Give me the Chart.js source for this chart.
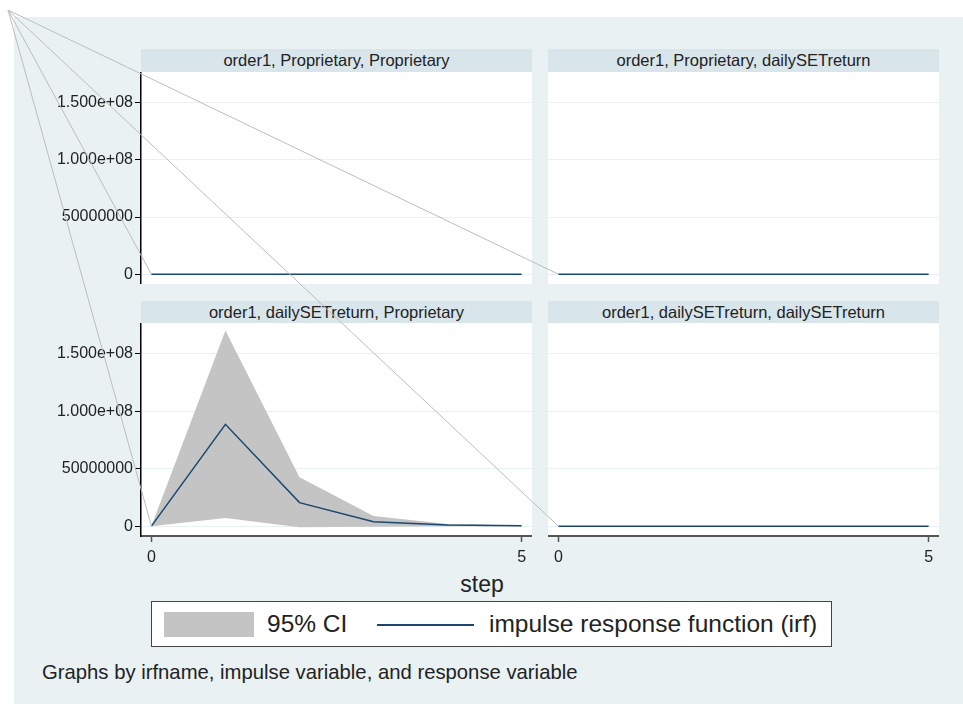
<!DOCTYPE html>
<html>
<head>
<meta charset="utf-8">
<script src="https://cdn.jsdelivr.net/npm/chart.js@4.4.0/dist/chart.umd.min.js"></script>
<style>
  body { margin: 0; width: 963px; height: 704px; overflow: hidden; position: relative; background: #fff;
         font-family: "Liberation Sans", Arial, sans-serif; color: #222; }
  #bg { position: absolute; left: 14px; top: 17px; right: 0; bottom: 0; background: #e9f1f3; }
  .strip { position: absolute; width: 391px; height: 23px; line-height: 23px; background: #d8e5eb;
           text-align: center; font-size: 16.5px; color: #222; }
  canvas { position: absolute; }
  #step { position: absolute; left: 432px; width: 100px; top: 571px; text-align: center; font-size: 23px; }
  #legend { position: absolute; left: 151px; top: 601px; width: 679px; height: 44px; background: #fff;
            border: 1px solid #444; }
  #legend .sw { position: absolute; left: 12px; top: 10px; width: 90px; height: 25px; background: #c4c4c4; }
  #legend .ln { position: absolute; left: 225px; top: 22px; width: 97px; height: 2px; background: #1a476f; }
  #legend .tx { position: absolute; top: 0; line-height: 44px; font-size: 24.5px; color: #222; }
  #note { position: absolute; left: 42px; top: 661px; font-size: 20.3px; color: #222; }
  #overlay { position: absolute; left: 0; top: 0; pointer-events: none; }
</style>
</head>
<body>
<div id="bg"></div>

<div class="strip" style="left:141px;top:49px">order1, Proprietary, Proprietary</div>
<div class="strip" style="left:548px;top:49px">order1, Proprietary, dailySETreturn</div>
<div class="strip" style="left:141px;top:301px;height:22px;line-height:22px">order1, dailySETreturn, Proprietary</div>
<div class="strip" style="left:548px;top:301px;height:22px;line-height:22px">order1, dailySETreturn, dailySETreturn</div>

<canvas id="pPP" width="491" height="212" style="left:41px;top:72px"></canvas>
<canvas id="pPD" width="391" height="212" style="left:548px;top:72px"></canvas>
<canvas id="pDP" width="491" height="248" style="left:41px;top:323px"></canvas>
<canvas id="pDD" width="391" height="248" style="left:548px;top:323px"></canvas>

<div id="step">step</div>
<div id="legend">
  <div class="sw"></div>
  <div class="tx" style="left:115px">95% CI</div>
  <div class="ln"></div>
  <div class="tx" style="left:337px">impulse response function (irf)</div>
</div>
<div id="note">Graphs by irfname, impulse variable, and response variable</div>
<canvas id="overlay" width="963" height="704"></canvas>

<script>
// steps of the impulse response
var steps = [0, 1, 2, 3, 4, 5];

// order1, Proprietary -> Proprietary
var irfPP = [0, 0, 0, 0, 0, 0];
var loPP  = [0, 0, 0, 0, 0, 0];
var hiPP  = [0, 0, 0, 0, 0, 0];

// order1, Proprietary -> dailySETreturn
var irfPD = [0, 0, 0, 0, 0, 0];
var loPD  = [0, 0, 0, 0, 0, 0];
var hiPD  = [0, 0, 0, 0, 0, 0];

// order1, dailySETreturn -> Proprietary
var irfDP = [0, 88700000, 20500000, 3800000, 900000, 300000];
var loDP  = [0, 7000000, -900000, -500000, -100000, 0];
var hiDP  = [0, 170500000, 42500000, 8800000, 1800000, 500000];

// order1, dailySETreturn -> dailySETreturn
var irfDD = [0, 0, 0, 0, 0, 0];
var loDD  = [0, 0, 0, 0, 0, 0];
var hiDD  = [0, 0, 0, 0, 0, 0];

var yTicks = [0, 50000000, 100000000, 150000000];
var yTickLabels = ["0", "50000000", "1.000e+08", "1.500e+08"];
var xTicks = [0, 5];

var ciColor = "#c4c4c4";
var irfColor = "#1a476f";

Chart.defaults.font.family = "'Liberation Sans', Arial, sans-serif";
Chart.defaults.font.size = 16;
Chart.defaults.color = "#222";

var whiteArea = {
  id: "whiteArea",
  beforeDraw: function(chart) {
    var a = chart.chartArea;
    chart.ctx.save();
    chart.ctx.fillStyle = "#fff";
    chart.ctx.fillRect(a.left, a.top, a.right - a.left, a.bottom - a.top);
    chart.ctx.restore();
  }
};

function pts(arr) {
  return steps.map(function(s, i) { return { x: s, y: arr[i] }; });
}

function makePanel(id, irf, lo, hi, showY, showX) {
  var ctx = document.getElementById(id).getContext("2d");
  return new Chart(ctx, {
    type: "line",
    data: {
      datasets: [
        { data: pts(lo), borderWidth: 0, pointRadius: 0, fill: false, order: 2 },
        { data: pts(hi), borderWidth: 0, pointRadius: 0, fill: "-1", backgroundColor: ciColor, order: 1 },
        { data: pts(irf), borderColor: irfColor, borderWidth: 1.5, pointRadius: 0, fill: false, order: 0 }
      ]
    },
    options: {
      responsive: false,
      animation: false,
      layout: { padding: 0 },
      plugins: { legend: { display: false }, tooltip: { enabled: false } },
      scales: {
        x: {
          type: "linear",
          min: -0.14,
          max: 5.14,
          display: showX,
          afterBuildTicks: function(s) { s.ticks = xTicks.map(function(v) { return { value: v }; }); },
          afterFit: function(s) {
            if (showX) { s.height = 35; }
            s.paddingLeft = 0; s.paddingRight = 0;
          },
          grid: { drawOnChartArea: false, drawTicks: true, tickLength: 6, tickColor: "#555", tickWidth: 1.5 },
          border: { display: true, color: "#555", width: 2 },
          ticks: { color: "#222", font: { size: 16 }, padding: 6, maxRotation: 0,
                   callback: function(v) { return String(v); } }
        },
        y: {
          min: -8600000,
          max: 177000000,
          afterBuildTicks: function(s) { s.ticks = yTicks.map(function(v) { return { value: v }; }); },
          afterFit: function(s) { s.width = showY ? 100 : 0; s.paddingTop = 0; s.paddingBottom = 0; },
          grid: { color: "#e9f1f3", lineWidth: 1, drawTicks: showY, tickLength: 6, tickColor: "#000" },
          border: { display: showY, color: "#000", width: 1.5 },
          ticks: {
            display: showY,
            color: "#222",
            padding: 2,
            font: { size: 16 },
            callback: function(v) { return yTickLabels[yTicks.indexOf(v)]; }
          }
        }
      }
    },
    plugins: [whiteArea]
  });
}

var charts = [
  makePanel("pPP", irfPP, loPP, hiPP, true, false),
  makePanel("pPD", irfPD, loPD, hiPD, false, false),
  makePanel("pDP", irfDP, loDP, hiDP, true, true),
  makePanel("pDD", irfDD, loDD, hiDD, false, true)
];

// thin grey leader lines from the page corner to each panel origin (as in the picture)
var ov = document.getElementById("overlay").getContext("2d");
ov.strokeStyle = "#bdbdbd";
ov.lineWidth = 1;
charts.forEach(function(c) {
  var el = c.canvas;
  var px = el.offsetLeft + c.scales.x.getPixelForValue(steps[0]);
  var py = el.offsetTop + c.scales.y.getPixelForValue(0);
  ov.beginPath();
  ov.moveTo(8, 10);
  ov.lineTo(px, py);
  ov.stroke();
});
</script>
</body>
</html>
